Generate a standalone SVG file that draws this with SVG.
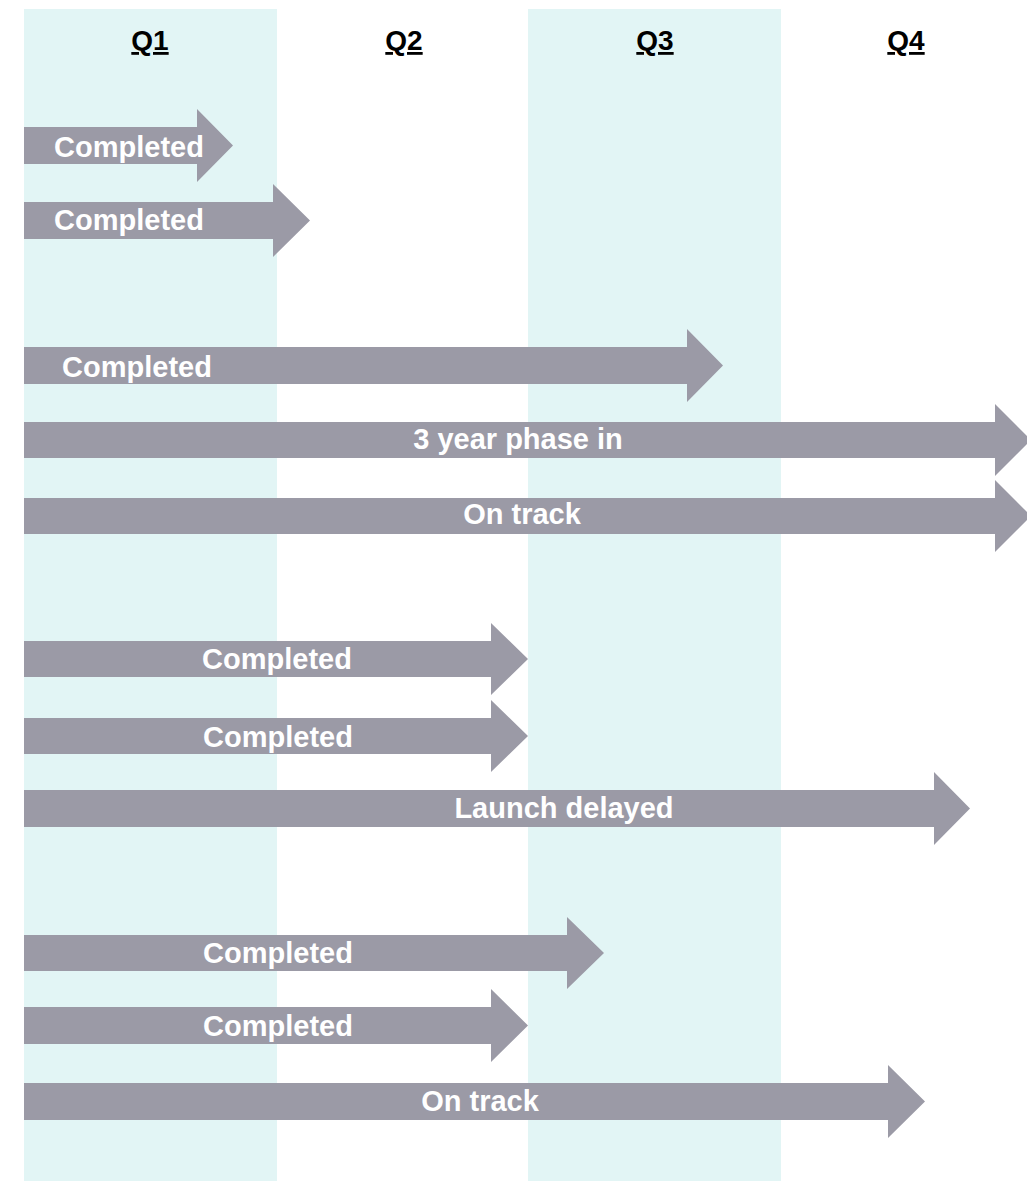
<svg xmlns="http://www.w3.org/2000/svg" width="1027" height="1181" viewBox="0 0 1027 1181">
  <style>
    .band { fill: #E2F5F5; }
    .arrow { fill: #9B9AA6; }
    .hdr { font-family: "Liberation Sans", Arial, sans-serif; font-weight: bold; font-size: 28px; fill: #000000; text-anchor: middle; text-decoration: underline; }
    .lbl { font-family: "Liberation Sans", Arial, sans-serif; font-weight: bold; font-size: 29px; fill: #FFFFFF; text-anchor: middle; }
  </style>
  <rect width="1027" height="1181" fill="#FFFFFF"/>
  <g id="columns">
    <rect class="band" x="24" y="9" width="253" height="1172"/>
    <rect class="band" x="528" y="9" width="253" height="1172"/>
  </g>
  <g id="headers">
    <text class="hdr" x="150" y="50">Q1</text>
    <text class="hdr" x="404" y="50">Q2</text>
    <text class="hdr" x="655" y="50">Q3</text>
    <text class="hdr" x="906" y="50">Q4</text>
  </g>
  <g id="connectors">
    <g id="arrow1"><path class="arrow" d="M24,127 H197 V109 L233,145.5 L197,182 V164 H24 Z"/><text class="lbl" x="129" y="157">Completed</text></g>
    <g id="arrow2"><path class="arrow" d="M24,202 H273 V184 L310,220.5 L273,257 V239 H24 Z"/><text class="lbl" x="129" y="230">Completed</text></g>
    <g id="arrow3"><path class="arrow" d="M24,347 H687 V329 L723,365.5 L687,402 V384 H24 Z"/><text class="lbl" x="137" y="377">Completed</text></g>
    <g id="arrow4"><path class="arrow" d="M24,422 H995 V404 L1031,440 L995,476 V458 H24 Z"/><text class="lbl" x="518" y="449">3 year phase in</text></g>
    <g id="arrow5"><path class="arrow" d="M24,498 H995 V480 L1031,516 L995,552 V534 H24 Z"/><text class="lbl" x="522" y="524">On track</text></g>
    <g id="arrow6"><path class="arrow" d="M24,641 H491 V623 L528,659 L491,695 V677 H24 Z"/><text class="lbl" x="277" y="669">Completed</text></g>
    <g id="arrow7"><path class="arrow" d="M24,718 H491 V700 L528,736 L491,772 V754 H24 Z"/><text class="lbl" x="278" y="747">Completed</text></g>
    <g id="arrow8"><path class="arrow" d="M24,790 H934 V772 L970,808.5 L934,845 V827 H24 Z"/><text class="lbl" x="564" y="818">Launch delayed</text></g>
    <g id="arrow9"><path class="arrow" d="M24,935 H567 V917 L604,953 L567,989 V971 H24 Z"/><text class="lbl" x="278" y="963">Completed</text></g>
    <g id="arrow10"><path class="arrow" d="M24,1007 H491 V989 L528,1025.5 L491,1062 V1044 H24 Z"/><text class="lbl" x="278" y="1036">Completed</text></g>
    <g id="arrow11"><path class="arrow" d="M24,1083 H888 V1065 L925,1101.5 L888,1138 V1120 H24 Z"/><text class="lbl" x="480" y="1111">On track</text></g>
  </g>
</svg>
